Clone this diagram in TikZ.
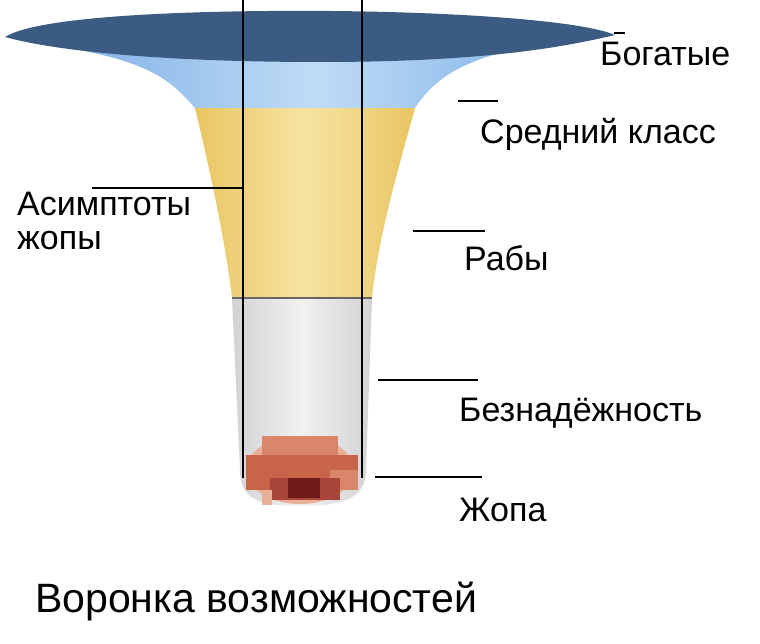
\documentclass[tikz,border=0pt]{standalone}
\usepackage{fontspec}
\setmainfont{Liberation Sans}
\begin{document}
\begin{tikzpicture}[x=1pt,y=-1pt,
  lbl/.style={anchor=base west,inner sep=0pt,font=\fontsize{34}{40}\selectfont},
  lead/.style={draw=black,line width=1.3pt}]
\definecolor{dblue}{HTML}{3B5B82}
\definecolor{bedge}{HTML}{7DAEE6}
\definecolor{bmid}{HTML}{BFDCF6}
\definecolor{yedge}{HTML}{E9C562}
\definecolor{ymid}{HTML}{F7E4A2}
\definecolor{gedge}{HTML}{D2D2D4}
\definecolor{gmid}{HTML}{F1F1F2}
\definecolor{p1}{HTML}{E8B096}
\definecolor{p2}{HTML}{D9866A}
\definecolor{p3}{HTML}{C8644A}
\definecolor{p4}{HTML}{A8443A}
\definecolor{p5}{HTML}{6E1A18}
\useasboundingbox (0,0) rectangle (760,644);
% grey cylinder
\shade[left color=gedge,right color=gedge,middle color=gmid]
  (232,298) -- (372,298) -- (366,470) .. controls (366,500) and (340,506) .. (300,506)
  .. controls (260,506) and (240,500) .. (240,470) -- cycle;
% yellow band
\shade[left color=yedge,right color=yedge,middle color=ymid]
  (195,108) -- (415,108) .. controls (395,180) and (378,240) .. (372,298) -- (232,298)
  .. controls (225,240) and (210,170) .. (195,108) -- cycle;
\draw[gray!80!black,line width=1.5pt] (232,298) -- (372,298);
% blue band
\shade[left color=bedge,right color=bedge,middle color=bmid]
  (50,45) .. controls (150,60) and (170,80) .. (195,108) -- (415,108)
  .. controls (440,70) and (480,50) .. (580,40) -- cycle;
% top disk
\fill[dblue] (5,37) .. controls (40,15) and (200,10) .. (330,11)
  .. controls (450,12) and (580,20) .. (615,35)
  .. controls (560,48) and (480,62) .. (320,62)
  .. controls (170,62) and (60,52) .. (5,37) -- cycle;
% blob (pixelated)
\fill[p1] (300,470) ellipse (54 and 34);
\fill[p2] (262,436) rectangle (338,455);
\fill[p3] (246,455) rectangle (358,490);
\fill[p2] (330,470) rectangle (358,490);
\fill[p4] (270,478) rectangle (340,500);
\fill[p1] (262,490) rectangle (272,505);
\fill[p5] (288,478) rectangle (320,498);
% asymptotes
\coordinate (la) at (243,0); \coordinate (lb) at (243,478);
\coordinate (ra) at (362,0); \coordinate (rb) at (362,478);
\draw[lead] (la) -- (lb); \draw[lead] (ra) -- (rb);
% labels
\node[lbl] (t1) at (600,66) {Богатые};
\node[lbl] (t2) at (480,144) {Средний класс};
\node[lbl] (t3) at (464,271) {Рабы};
\node[lbl] (t4) at (459,421) {Безнадёжность};
\node[lbl] (t5) at (459,521) {Жопа};
\node[lbl,align=left,anchor=north west,font=\fontsize{34}{34}\selectfont] (t6) at (17,192) {Асимптоты\\жопы};
\node[lbl,font=\fontsize{41}{46}\selectfont] (t7) at (35,612) {Воронка возможностей};
\coordinate (a1) at (614,33); \coordinate (b1) at (625,33);
\coordinate (a2) at (458,101); \coordinate (b2) at (498,101);
\coordinate (a3) at (413,231); \coordinate (b3) at (485,231);
\coordinate (a4) at (378,380); \coordinate (b4) at (478,380);
\coordinate (a5) at (375,477); \coordinate (b5) at (482,477);
\coordinate (a6) at (92,188);
\draw[lead] (a1)--(b1); \draw[lead] (a2)--(b2); \draw[lead] (a3)--(b3);
\draw[lead] (a4)--(b4); \draw[lead] (a5)--(b5); \draw[lead] (a6)--(243,188);
\end{tikzpicture}
\end{document}
